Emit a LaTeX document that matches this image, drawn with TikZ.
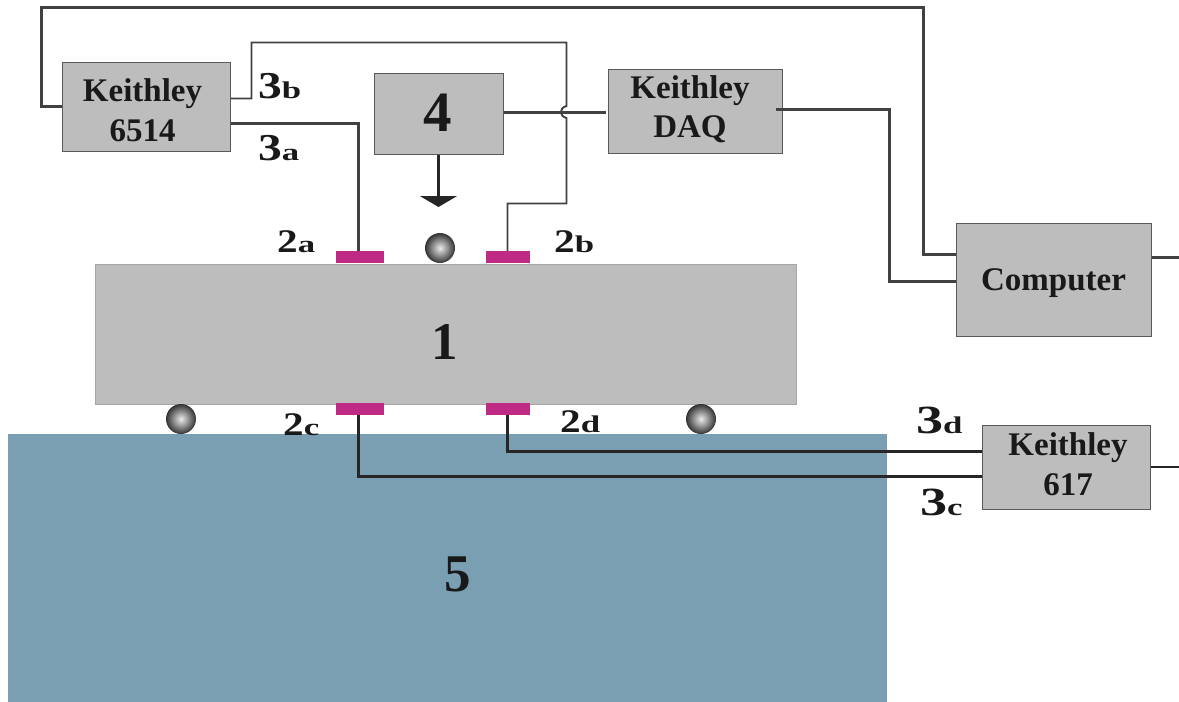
\documentclass[tikz,border=0pt]{standalone}
\usepackage{graphicx}
\usepackage{fontspec}
\setmainfont{Liberation Serif}
\usetikzlibrary{positioning, arrows.meta, calc}
\definecolor{box_grey}{RGB}{189, 189, 189}
\definecolor{pad_pink}{RGB}{190, 42, 132}
\definecolor{tank_blue}{RGB}{122, 159, 179}
\definecolor{wire_dark}{RGB}{65, 65, 65}
\newcommand{\partlabel}[4]{{\fontsize{#3}{#3}\selectfont\scalebox{#4}[1]{#1}}{\fontsize{24}{24}\selectfont\scalebox{1.45}[1]{#2}}}

\begin{document}
\begin{tikzpicture}[x=1pt, y=-1pt, font=\bfseries,
      box/.style={draw=black!65, line width=1pt, fill=box_grey, inner sep=0pt},
      boxtext/.style={align=center, inner sep=0pt, text=black!90, font=\fontsize{33}{40}\selectfont\bfseries},
      pad/.style={fill=pad_pink, inner sep=0pt, minimum height=12pt},
      ball/.style={circle, minimum size=30pt, inner sep=0pt, shading=radial, inner color=black!8, outer color=black!80},
      wire/.style={draw=wire_dark, line width=2.2pt},
      tag/.style={anchor=base west, inner sep=0pt, text=black!90},
      big/.style={inner sep=0pt, text=black!90, font=\fontsize{53}{53}\selectfont\bfseries}]
    \useasboundingbox (0,0) rectangle (1179,702);
    \node[fill=tank_blue, minimum width=879pt, minimum height=268pt, inner sep=0pt] (tank) at (447.5,568) {};
    \node[box, draw=black!35, minimum width=701pt, minimum height=140pt] (slab) at (445.5,334) {};
    \node[big] (slabnum) at (445,342) {1};
    \node[big] (tanknum) at (458,574) {5};

    \node[box, minimum width=168pt, minimum height=89pt,
      label={[boxtext, xshift=-3.5pt, yshift=-3.5pt]center:{Keithley\\6514}}] (k6514) at (146,106.5) {};
    \node[box, minimum width=129pt, minimum height=81pt,
      label={[boxtext, font=\fontsize{57}{57}\selectfont\bfseries, xshift=-1pt, yshift=1pt]center:4}] (heater) at (438.5,113.5) {};
    \node[box, minimum width=174pt, minimum height=84pt,
      label={[boxtext, font=\fontsize{33}{39}\selectfont\bfseries, xshift=-5pt, yshift=2pt]center:{Keithley\\DAQ}}] (kdaq) at (695,111) {};
    \node[box, minimum width=195pt, minimum height=113pt,
      label={[boxtext, yshift=-4pt]center:{Computer}}] (comp) at (1053.5,279.5) {};
    \node[box, minimum width=168pt, minimum height=84pt,
      label={[boxtext, xshift=2pt, yshift=3pt]center:{Keithley\\617}}] (k617) at (1066,467) {};

    \node[pad, minimum width=48pt] (pada) at (360,257) {};
    \node[pad, minimum width=44pt] (padb) at (508,257) {};
    \node[pad, minimum width=48pt] (padc) at (360,409) {};
    \node[pad, minimum width=44pt] (padd) at (508,409) {};

    \node[ball] (balltop)   at (440,248) {};
    \node[ball] (ballleft)  at (181,419) {};
    \node[ball] (ballright) at (701,419) {};

    \coordinate (topl) at (41.5,7.5);
    \coordinate (topr) at (923.5,7.5);
    \coordinate (bl) at (251.5,42.5);
    \coordinate (br) at (566.5,42.5);
    \coordinate (hopa) at (566.5,106);
    \coordinate (hopb) at (566.5,118);
    \coordinate (bd) at (566.5,203.5);
    \coordinate (daqbend) at (889.5,200);
    \coordinate (compout) at (1179,257.5);
    \coordinate (kout) at (1179,467);
    \coordinate (drop) at (438.5,207);

    \draw[wire] (k6514.west) -| (topl) -- (topr) |- ([yshift=25pt]comp.west);
    \draw[wire, line width=1.9pt] ([yshift=8pt]k6514.east) -| (bl) -- (br) -- (hopa)
      .. controls (559,108) and (559,116) .. (hopb) -- (bd) -| ([xshift=-0.5pt]padb.north);
    \draw[wire] ([yshift=-17pt]k6514.east) -| ([xshift=-1.5pt]pada.north);
    \draw[wire] ([yshift=1pt]heater.east) -- ([xshift=-2pt,yshift=1pt]heater.east -| kdaq.west);
    \draw[wire, draw=black!85, -{Triangle[width=37pt,length=11pt]}] (heater.south) -- (drop);
    \draw[wire] ([xshift=-7pt,yshift=1.5pt]kdaq.east) -| (daqbend) |- ([yshift=-2pt]comp.west);
    \draw[wire] ([yshift=22pt]comp.east) -- (compout);
    \draw[wire, draw=black!85] ([xshift=-0.5pt]padd.south) |- ([yshift=15.5pt]k617.west);
    \draw[wire, draw=black!85] ([xshift=-1.5pt]padc.south) |- ([yshift=-9.5pt]k617.west);
    \draw[wire, draw=black!85] (k617.east) -- (kout);

    \node[tag] (tagtb) at (258,98)  {\partlabel{3}{b}{38}{1.25}};
    \node[tag] (tagta) at (258,160) {\partlabel{3}{a}{38}{1.25}};
    \node[tag] (tagba) at (277,252) {\partlabel{2}{a}{33}{1.25}};
    \node[tag] (tagbb) at (554,252) {\partlabel{2}{b}{33}{1.25}};
    \node[tag] (tagbc) at (283,435) {\partlabel{2}{c}{33}{1.25}};
    \node[tag] (tagbd) at (560,432) {\partlabel{2}{d}{33}{1.25}};
    \node[tag] (tagtd) at (916,433) {\partlabel{3}{d}{40}{1.35}};
    \node[tag] (tagtc) at (920,515) {\partlabel{3}{c}{40}{1.35}};
  \end{tikzpicture}
\end{document}
